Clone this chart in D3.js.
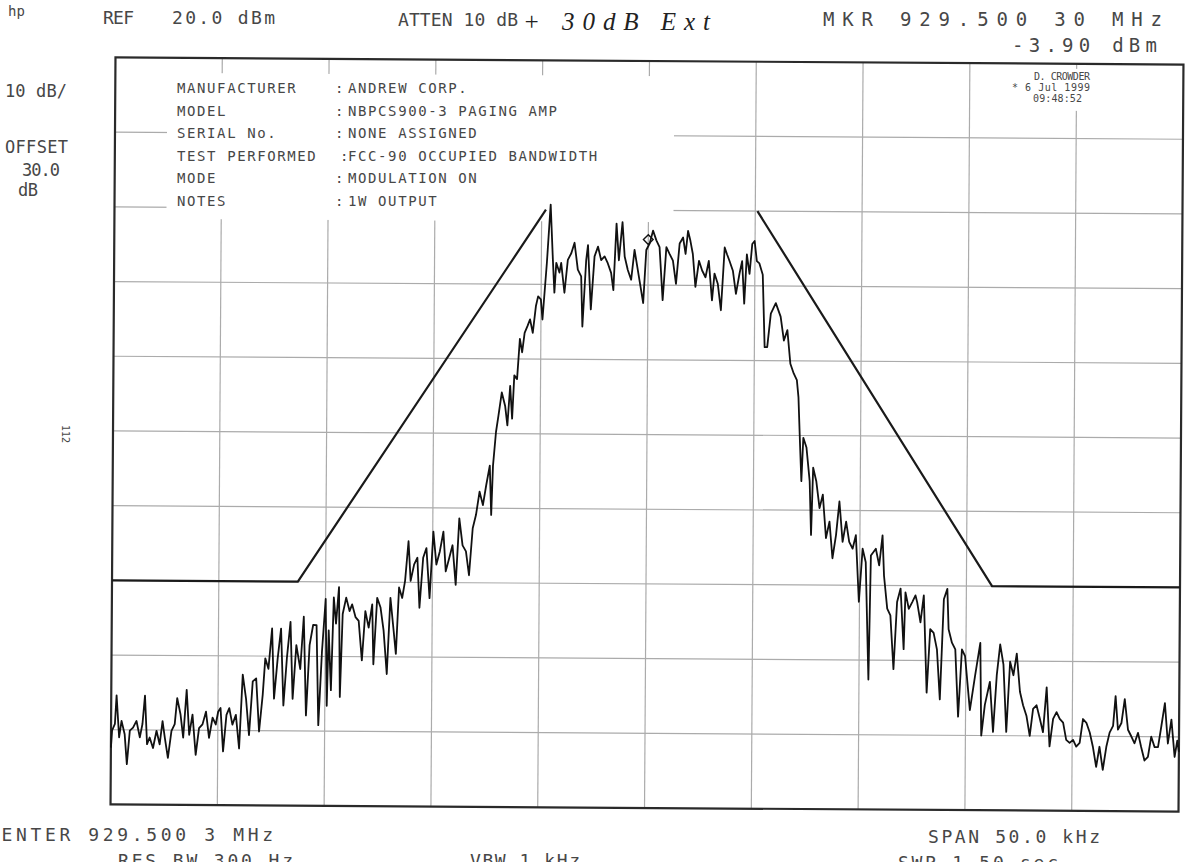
<!DOCTYPE html>
<html>
<head>
<meta charset="utf-8">
<script src="https://cdn.jsdelivr.net/npm/d3@7"></script>
<style>
  body { margin: 0; background: #fff; }
  svg { display: block; }
  .lbl { font-family: "DejaVu Sans Mono", monospace; fill: #474747; }
</style>
</head>
<body>
<svg id="chart" width="1186" height="862"></svg>
<script>
// sweep: offset from centre (kHz) and level (dBm)
const freqKHz = [
  -25.00, -24.95, -24.82, -24.75, -24.62, -24.51, -24.36, -24.25, -24.12, -23.97,
  -23.81, -23.65, -23.53, -23.42, -23.31, -23.19, -23.03, -22.87, -22.72, -22.59,
  -22.48, -22.33, -22.17, -22.02, -21.91, -21.75, -21.62, -21.47, -21.34, -21.19,
  -21.03, -20.88, -20.72, -20.56, -20.41, -20.25, -20.10, -19.99, -19.88, -19.75,
  -19.60, -19.47, -19.32, -19.16, -19.00, -18.85, -18.69, -18.54, -18.38, -18.22,
  -18.07, -17.91, -17.80, -17.65, -17.49, -17.38, -17.22, -17.07, -16.94, -16.79,
  -16.63, -16.51, -16.35, -16.16, -16.01, -15.88, -15.73, -15.57, -15.41, -15.30,
  -15.15, -14.99, -14.91,
  -14.84, -14.72, -14.61, -14.50, -14.37, -14.30, -14.19, -14.03, -13.87, -13.75,
  -13.59, -13.44, -13.28, -13.13, -12.97, -12.81, -12.74, -12.58, -12.42, -12.27,
  -12.11, -11.96, -11.80, -11.69, -11.56, -11.41, -11.28, -11.13, -11.02, -10.86,
  -10.71, -10.60, -10.44, -10.29, -10.13, -9.97, -9.82, -9.66, -9.50, -9.38,
  -9.22, -9.07, -8.91, -8.76, -8.60, -8.44, -8.29, -8.13, -7.98, -7.82,
  -7.66, -7.51, -7.35, -7.27, -7.20, -7.07, -6.96, -6.81, -6.65, -6.54,
  -6.42, -6.32, -6.23, -6.10, -5.98, -5.87, -5.76, -5.63, -5.51, -5.38,
  -5.24, -5.14, -5.01,
  -4.93, -4.74, -4.58, -4.46, -4.38, -4.30, -4.15, -4.07, -3.91, -3.76,
  -3.60, -3.45, -3.29, -3.13, -3.06, -2.90, -2.82, -2.67, -2.51, -2.35,
  -2.20, -2.04, -1.89, -1.73, -1.62, -1.49, -1.37, -1.21, -1.10, -0.95,
  -0.79, -0.64, -0.48, -0.32, -0.22, -0.09, 0.07, 0.22, 0.38, 0.53,
  0.69, 0.85, 1.00, 1.16, 1.31, 1.47, 1.63, 1.75, 1.86, 1.97,
  2.09, 2.22, 2.38, 2.53, 2.69, 2.84, 3.00, 3.11, 3.27, 3.42,
  3.58, 3.69, 3.81, 3.97, 4.12, 4.28, 4.40, 4.51, 4.62, 4.75,
  4.87, 4.98, 5.09,
  5.21, 5.37, 5.48, 5.60, 5.76, 5.99, 6.22, 6.38, 6.54, 6.69,
  6.85, 7.00, 7.08, 7.16, 7.24, 7.32, 7.47, 7.63, 7.71, 7.79,
  7.94, 8.10, 8.25, 8.41, 8.57, 8.72, 8.88, 9.03, 9.19, 9.35,
  9.50, 9.66, 9.81, 9.97, 10.13, 10.28, 10.44, 10.52, 10.75, 10.91,
  11.06, 11.14, 11.30, 11.45, 11.61, 11.76, 11.92, 12.08, 12.15, 12.31,
  12.47, 12.62, 12.70, 12.86, 13.01, 13.17, 13.32, 13.48, 13.64, 13.79,
  13.95, 14.11, 14.18, 14.34, 14.50, 14.65, 14.81, 14.96, 15.20, 15.43,
  15.67, 15.74, 15.90, 16.13, 16.29, 16.45, 16.60, 16.76, 16.91, 17.07,
  17.23, 17.38, 17.54, 17.69, 17.85, 18.01, 18.16, 18.32, 18.48, 18.63,
  18.79, 18.94, 19.10, 19.26, 19.41, 19.57, 19.72, 19.88, 20.04, 20.19,
  20.35, 20.50, 20.66, 20.82, 20.97, 21.13, 21.28, 21.44, 21.60, 21.75,
  21.91, 22.02, 22.14, 22.30, 22.45, 22.61, 22.77, 22.92, 23.08, 23.23,
  23.39, 23.55, 23.70, 23.86, 24.02, 24.17, 24.33, 24.48, 24.64, 24.80,
  24.92, 25.00
];
const levelDbm = [
  -72.4, -70.1, -69.2, -65.4, -71.0, -68.8, -70.6, -74.6, -70.1, -69.7,
  -68.8, -71.0, -69.2, -65.4, -71.9, -71.0, -72.4, -70.1, -71.9, -68.8,
  -71.0, -73.7, -70.1, -69.2, -65.7, -67.9, -71.0, -64.6, -70.6, -67.9,
  -73.3, -69.7, -69.2, -67.5, -71.0, -68.3, -69.2, -67.5, -67.0, -72.8,
  -67.9, -67.0, -69.2, -67.9, -72.4, -62.5, -65.7, -70.6, -63.4, -63.0,
  -70.1, -65.2, -60.3, -61.7, -56.3, -65.7, -60.3, -56.3, -66.6, -60.3,
  -55.4, -65.7, -58.5, -61.7, -54.7, -67.9, -58.5, -55.8, -55.8, -69.2,
  -59.4, -52.3, -66.6,
  -56.5, -64.5, -52.1, -55.6, -50.7, -65.4, -54.3, -52.1, -53.9, -53.0,
  -54.7, -55.2, -60.5, -53.9, -56.1, -53.0, -61.0, -52.1, -53.4, -56.5,
  -62.3, -52.1, -56.5, -59.6, -50.7, -52.1, -49.8, -44.5, -49.8, -47.6,
  -46.7, -53.4, -46.7, -45.4, -52.1, -43.2, -47.6, -45.8, -43.2, -48.5,
  -46.7, -45.0, -50.3, -41.4, -45.0, -45.8, -49.0, -42.7, -40.9, -37.8,
  -39.6, -36.9, -34.3, -40.9, -34.3, -29.8, -27.6, -24.5, -26.3, -28.9,
  -23.6, -28.0, -22.2, -22.7, -17.3, -19.1, -16.5, -15.6, -14.7, -16.5,
  -12.9, -11.6, -12.0,
  -14.7, -7.1, 0.7, -6.7, -11.1, -7.1, -8.4, -7.1, -11.1, -6.7,
  -5.8, -4.4, -8.0, -8.9, -15.6, -6.7, -4.7, -13.3, -6.2, -4.9,
  -6.7, -6.2, -7.1, -8.4, -10.7, -1.8, -6.7, -1.6, -6.2, -8.0,
  -9.3, -5.3, -8.0, -10.7, -12.4, -5.3, -4.4, -2.7, -4.0, -4.9,
  -12.0, -4.9, -5.8, -6.7, -9.8, -4.4, -3.6, -5.8, -2.7, -4.0,
  -5.8, -10.2, -6.7, -8.0, -8.9, -6.7, -12.0, -8.4, -9.8, -13.3,
  -4.9, -5.8, -6.7, -8.0, -11.1, -8.4, -6.7, -12.4, -5.8, -8.4,
  -4.4, -4.0, -6.7,
  -7.0, -8.5, -18.2, -18.2, -13.7, -12.3, -14.1, -17.3, -15.9, -20.4,
  -21.7, -22.6, -24.9, -30.7, -36.1, -30.3, -31.6, -36.1, -43.3, -34.3,
  -36.1, -39.7, -37.9, -43.7, -41.5, -46.4, -43.3, -38.8, -44.2, -41.5,
  -44.2, -45.1, -43.3, -52.2, -45.1, -46.9, -62.6, -46.0, -45.1, -47.3,
  -43.3, -48.7, -53.1, -54.0, -61.2, -52.2, -50.4, -58.5, -50.9, -53.1,
  -52.2, -51.3, -52.2, -54.9, -51.3, -64.3, -55.8, -56.3, -58.5, -65.2,
  -51.8, -50.4, -55.8, -57.6, -58.5, -67.5, -58.5, -59.4, -66.6, -62.1,
  -57.6, -70.0, -65.9, -62.8, -69.5, -61.9, -57.8, -60.5, -69.5, -60.1,
  -61.9, -59.0, -64.1, -65.9, -67.3, -70.0, -66.4, -65.9, -67.7, -69.5,
  -63.5, -71.4, -67.7, -66.8, -67.7, -68.2, -70.5, -70.9, -70.5, -71.4,
  -70.9, -67.7, -68.2, -69.5, -71.4, -74.1, -71.4, -74.5, -71.4, -69.5,
  -68.6, -64.6, -69.1, -68.2, -65.0, -69.1, -70.0, -70.9, -69.5, -71.4,
  -73.2, -72.7, -70.0, -71.4, -71.4, -68.6, -65.5, -70.9, -67.7, -72.7,
  -70.5, -72.0
];

// limit mask, two legs
const maskLowKHz = [-25, -16.3, -4.8];
const maskLowDbm = [-50, -50, 0];
const maskHighKHz = [5.1, 16.2, 25];
const maskHighDbm = [0, -50, -50];

// marker
const markerKHz = [0.0];
const markerDbm = [-3.9];

const infoLabels = ["MANUFACTURER", "MODEL", "SERIAL No.", "TEST PERFORMED", "MODE", "NOTES"];
const infoValues = ["ANDREW CORP.", "NBPCS900-3 PAGING AMP", "NONE ASSIGNED",
                    "FCC-90 OCCUPIED BANDWIDTH", "MODULATION ON", "1W OUTPUT"];

const svg = d3.select("#chart");

const x = d3.scaleLinear().domain([-25, 25]).range([113, 1181]);
const y = d3.scaleLinear().domain([-80, 20]).range([808, 61]);

// the scan is a little skewed, so the plot is turned slightly
const plot = svg.append("g")
    .attr("transform", "rotate(0.38, 647, 434)");

// grid
plot.selectAll(".vgrid")
    .data(x.ticks(10).slice(1, -1))
    .join("line")
    .attr("class", "vgrid")
    .attr("x1", d => x(d)).attr("x2", d => x(d))
    .attr("y1", y(20)).attr("y2", y(-80))
    .attr("stroke", "#ababab")
    .attr("stroke-width", 1.2);

plot.selectAll(".hgrid")
    .data(y.ticks(10).slice(1, -1))
    .join("line")
    .attr("class", "hgrid")
    .attr("x1", x(-25)).attr("x2", x(25))
    .attr("y1", d => y(d)).attr("y2", d => y(d))
    .attr("stroke", "#ababab")
    .attr("stroke-width", 1.2);

// annotation blocks blank the grid underneath them
plot.append("rect")
    .attr("x", 165).attr("y", 76)
    .attr("width", 507).attr("height", 146)
    .attr("fill", "#fff");
plot.append("rect")
    .attr("x", 1000).attr("y", 66)
    .attr("width", 97).attr("height", 42)
    .attr("fill", "#fff");

// frame
plot.append("rect")
    .attr("x", x(-25)).attr("y", y(20))
    .attr("width", x(25) - x(-25)).attr("height", y(-80) - y(20))
    .attr("fill", "none")
    .attr("stroke", "#2a2a2a")
    .attr("stroke-width", 2.2);

// limit mask
const line = d3.line()
    .x(d => x(d[0]))
    .y(d => y(d[1]));

plot.append("path")
    .datum(d3.zip(maskLowKHz, maskLowDbm))
    .attr("d", line)
    .attr("fill", "none")
    .attr("stroke", "#1a1a1a")
    .attr("stroke-width", 2.2);

plot.append("path")
    .datum(d3.zip(maskHighKHz, maskHighDbm))
    .attr("d", line)
    .attr("fill", "none")
    .attr("stroke", "#1a1a1a")
    .attr("stroke-width", 2.2);

// trace
plot.append("path")
    .datum(d3.zip(freqKHz, levelDbm))
    .attr("d", line)
    .attr("fill", "none")
    .attr("stroke", "#111")
    .attr("stroke-width", 1.8)
    .attr("stroke-linejoin", "round");

// marker diamond
plot.selectAll(".mkr")
    .data(d3.zip(markerKHz, markerDbm))
    .join("path")
    .attr("class", "mkr")
    .attr("d", d3.symbol(d3.symbolDiamond2, 60))
    .attr("transform", d => `translate(${x(d[0])},${y(d[1])})`)
    .attr("fill", "none")
    .attr("stroke", "#111")
    .attr("stroke-width", 1.4);

// info block
const rowY = i => 93 + i * 22.5;

svg.selectAll(".infoLabel")
    .data(infoLabels)
    .join("text")
    .attr("class", "lbl infoLabel")
    .attr("x", 177)
    .attr("y", (d, i) => rowY(i))
    .attr("font-size", 14)
    .attr("letter-spacing", 1.6)
    .text(d => d);

svg.selectAll(".infoColon")
    .data(infoLabels)
    .join("text")
    .attr("class", "lbl infoColon")
    .attr("x", (d, i) => i === 3 ? 340 : 335)
    .attr("y", (d, i) => rowY(i))
    .attr("font-size", 14)
    .text(":");

svg.selectAll(".infoValue")
    .data(infoValues)
    .join("text")
    .attr("class", "lbl infoValue")
    .attr("x", 348)
    .attr("y", (d, i) => rowY(i))
    .attr("font-size", 14)
    .attr("letter-spacing", 1.6)
    .text(d => d);

// instrument annotations
function label(txt, px, py, size, len) {
    const t = svg.append("text")
        .attr("class", "lbl")
        .attr("x", px).attr("y", py)
        .attr("font-size", size)
        .text(txt);
    if (len) t.attr("textLength", len).attr("lengthAdjust", "spacing");
    return t;
}

label("hp", 8, 16, 14);
label("REF", 103, 24, 18, 31);
label("20.0 dBm", 172, 24, 18, 103);
label("ATTEN 10 dB", 398, 26, 18, 120);
label("MKR 929.500 30 MHz", 823, 26, 19, 339);
label("-3.90 dBm", 1012, 52, 19, 145);
label("10 dB/", 5, 97, 17, 62);
label("OFFSET", 5, 153, 17, 63);
label("30.0", 22, 176, 17, 38);
label("dB", 18, 196, 17, 20);
label("D. CROWDER", 1034, 80, 10, 56);
label("* 6 Jul 1999", 1012, 91, 10, 78);
label("09:48:52", 1033, 102, 10, 49);
label("CENTER 929.500 3 MHz", -13, 841, 18, 286);
label("SPAN 50.0 kHz", 928, 843, 18, 172);
label("RES BW 300  Hz", 118, 867, 18, 175);
label("VBW 1 kHz", 470, 867, 18, 110);
label("SWP 1.50 sec", 898, 869, 18, 160);

label("112", 62, 425, 10).attr("transform", "rotate(90, 62, 425)");

// handwritten note
svg.append("text")
    .attr("x", 523).attr("y", 30)
    .attr("font-family", "Liberation Serif")
    .attr("font-style", "italic")
    .attr("font-size", 25)
    .attr("fill", "#222")
    .attr("textLength", 187)
    .attr("lengthAdjust", "spacing")
    .text("+ 30dB Ext");
</script>
</body>
</html>
